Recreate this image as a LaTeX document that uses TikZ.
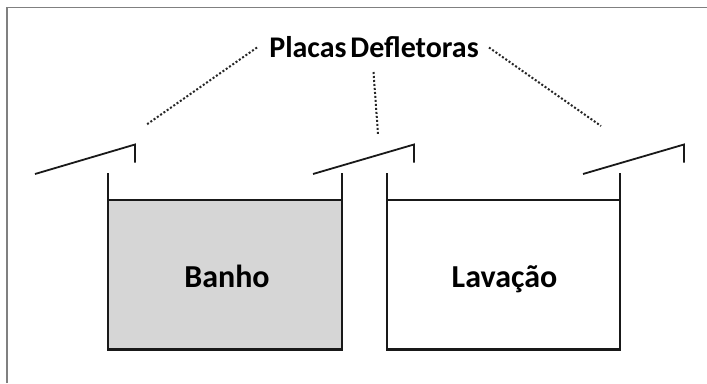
\documentclass[tikz,border=0pt]{standalone}
\usepackage{fontspec}
\setmainfont{Carlito}
\tikzset{
  solidline/.style={draw=black!90,line width=1.8pt},
  baseline/.style={draw=black!90,line width=2.4pt},
  plate/.style={draw=black!90,line width=1.8pt,line join=miter},
  dotline/.style={draw=black!85,line width=2pt,dash pattern=on 2pt off 2pt},
  toplabel/.style={font=\bfseries\fontsize{30}{32}\selectfont,text=black,inner sep=0pt,anchor=base},
  tanklabel/.style={font=\bfseries\fontsize{32}{34}\selectfont,text=black,inner sep=0pt,anchor=base},
  frameline/.style={draw=black!50,line width=1.3pt}
}
\begin{document}
\begin{tikzpicture}[x=1pt,y=-1pt]
\useasboundingbox (0,0) rectangle (707,383);
\fill[white] (0,0) rectangle (707,383);
\draw[frameline] (7,383) -- (7,7.5) -- (707,7.5);
% tanks
\fill[black!16] (108,200) rectangle (342,349.5);
\draw[solidline] (108,173) -- (108,349.5);
\draw[solidline] (342,349.5) -- (342,173);
\draw[baseline] (107,349.5) -- (343,349.5);
\draw[solidline] (108,200) -- (342,200);
\draw[solidline] (387,173) -- (387,349.5);
\draw[solidline] (620,349.5) -- (620,173);
\draw[baseline] (386,349.5) -- (621,349.5);
\draw[solidline] (387,200) -- (620,200);
% plates
\draw[plate] (35,174) -- (135,144.5) -- (135,162.5);
\draw[plate] (313,174) -- (414,144.5) -- (414,162.5);
\draw[plate] (583,174) -- (684,144.5) -- (684,162.5);
% labels
\node[toplabel] (title) at (374,57.5) {Placas\kern-3pt\ Defletoras};
\node[tanklabel] (banho) at (227,287) {Banho};
\node[tanklabel] (lavacao) at (504.5,287) {Lavação};
% leader lines
\coordinate (a) at (146,125);
\coordinate (b) at (378,134);
\coordinate (c) at (601,126);
\coordinate (ta) at (257,47.5);
\coordinate (tb) at (373.5,72);
\coordinate (tc) at (489,47.5);
\draw[dotline] (ta) -- (a);
\draw[dotline] (tb) -- (b);
\draw[dotline] (tc) -- (c);
\end{tikzpicture}
\end{document}
